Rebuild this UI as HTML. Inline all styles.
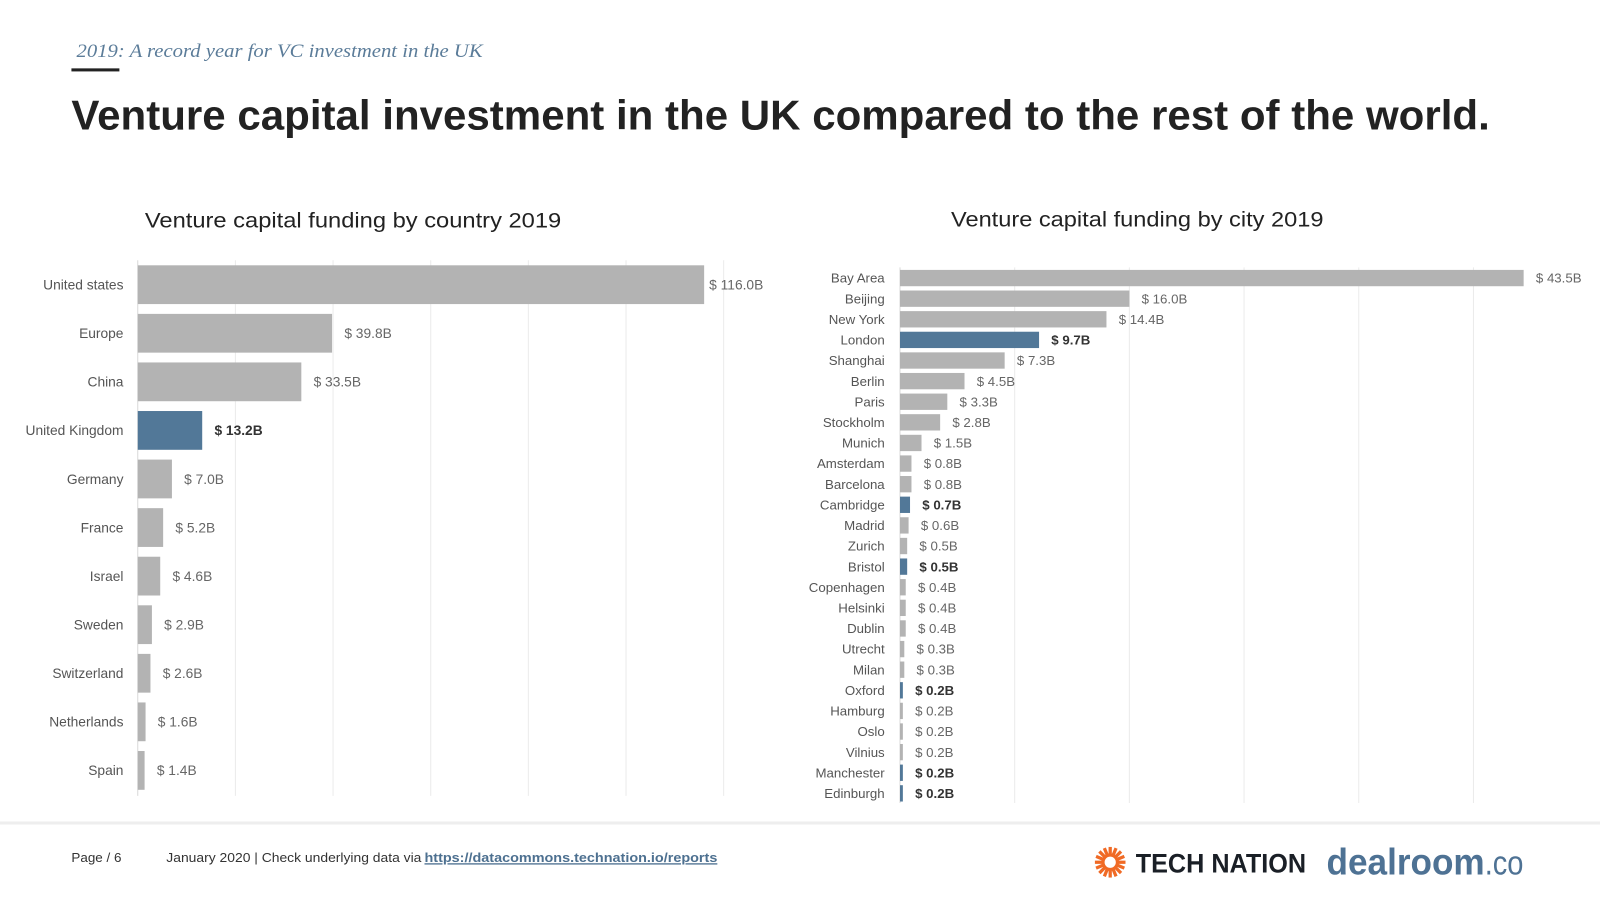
<!DOCTYPE html>
<html><head><meta charset="utf-8">
<style>
html,body{margin:0;padding:0;background:#fff;}
svg{display:block;font-family:"Liberation Sans",sans-serif;}
</style></head>
<body>
<svg id="root" width="1600" height="900" viewBox="0 0 1568 882" xmlns="http://www.w3.org/2000/svg">
  <text x="75" y="56" font-family="Liberation Serif, serif" font-style="italic" font-size="19" fill="#5b7c99" textLength="398" lengthAdjust="spacingAndGlyphs">2019: A record year for VC investment in the UK</text>
  <rect x="70" y="67" width="47" height="3" fill="#222"/>
  <text x="70" y="127" font-weight="bold" font-size="41" fill="#222" textLength="1390" lengthAdjust="spacingAndGlyphs">Venture capital investment in the UK compared to the rest of the world.</text>
  <text x="142" y="223" font-size="21" fill="#222" textLength="408" lengthAdjust="spacingAndGlyphs">Venture capital funding by country 2019</text>
  <text x="932" y="222" font-size="21" fill="#222" textLength="365" lengthAdjust="spacingAndGlyphs">Venture capital funding by city 2019</text>
  <g id="country"></g>
  <g id="city"></g>
  <rect x="0" y="805" width="1568" height="3" fill="#eeeeee"/>
  <text x="70" y="845" font-size="13" fill="#333" textLength="49" lengthAdjust="spacingAndGlyphs">Page / 6</text>
  <text x="163" y="845" font-size="13" fill="#333" textLength="250" lengthAdjust="spacingAndGlyphs">January 2020 | Check underlying data via</text>
  <a><text x="416" y="845" font-size="13" font-weight="bold" fill="#4d7090" text-decoration="underline" textLength="287" lengthAdjust="spacingAndGlyphs">https://datacommons.technation.io/reports</text></a>
  <g>
    <g id="sun" transform="translate(1088,845)"></g>
    <text x="1113" y="855" font-weight="bold" font-size="26" fill="#1a1f26" textLength="167" lengthAdjust="spacingAndGlyphs">TECH NATION</text>
  </g>
  <g>
    <text x="1300" y="857" font-weight="bold" font-size="36" fill="#4e7294" textLength="155" lengthAdjust="spacingAndGlyphs">dealroom</text>
    <text x="1455" y="857" font-size="34" fill="#4e7294" textLength="38" lengthAdjust="spacingAndGlyphs">.co</text>
  </g>
</svg>
<script>
const countryNames = ["United states","Europe","China","United Kingdom","Germany","France","Israel","Sweden","Switzerland","Netherlands","Spain"];
const countryValues = [116.0,39.8,33.5,13.2,7.0,5.2,4.6,2.9,2.6,1.6,1.4];
const countryHighlight = ["United Kingdom"];
const countryTicks = [20,40,60,80,100,120];
const cityNames = ["Bay Area","Beijing","New York","London","Shanghai","Berlin","Paris","Stockholm","Munich","Amsterdam","Barcelona","Cambridge","Madrid","Zurich","Bristol","Copenhagen","Helsinki","Dublin","Utrecht","Milan","Oxford","Hamburg","Oslo","Vilnius","Manchester","Edinburgh"];
const cityValues = [43.5,16.0,14.4,9.7,7.3,4.5,3.3,2.8,1.5,0.8,0.8,0.7,0.6,0.5,0.5,0.4,0.4,0.4,0.3,0.3,0.2,0.2,0.2,0.2,0.2,0.2];
const cityHighlight = ["London","Cambridge","Bristol","Oxford","Manchester","Edinburgh"];
const cityTicks = [8,16,24,32,40];

const NS = "http://www.w3.org/2000/svg";
function mk(tag, attrs, parent){const e=document.createElementNS(NS,tag);for(const k in attrs)e.setAttribute(k,attrs[k]);parent.appendChild(e);return e;}

function drawChart(g, names, values, hl, ticks, o){
  const x = v => o.x0 + v*o.scale;
  const y = i => o.y0 + i*o.step;
  ticks.forEach(t=>{
    const l=mk('line',{x1:x(t),x2:x(t),y1:o.gTop,y2:o.gBot,stroke:'#ebebeb','stroke-width':1},g);
    
    
  });
  const ax=mk('line',{x1:o.x0,x2:o.x0,y1:o.gTop,y2:o.gBot,stroke:'#d9d9d9','stroke-width':1},g);
  
  
  names.forEach((n,i)=>{
    const isH = hl.includes(n);
    const b=mk('rect',{x:o.x0,y:y(i)-o.bh/2,width:Math.max(1.5,x(values[i])-o.x0),height:o.bh,fill:isH?'#527898':'#b3b3b3'},g);
    
    
    const lb=mk('text',{x:o.x0-o.labGap,y:y(i)+o.fs*0.35,'text-anchor':'end','font-size':o.fs,fill:'#555'},g);
    lb.textContent=n;
    
    
    const vx = Math.min(x(values[i])+12, o.vmax || 99999);
    const vl=mk('text',{x:vx,y:y(i)+o.fs*0.35,'font-size':o.fs,fill:isH?'#333':'#666','font-weight':isH?'bold':'normal'},g);
    vl.textContent='$ '+values[i].toFixed(1)+'B';
    
    
  });
}
drawChart(document.getElementById('country'), countryNames, countryValues, countryHighlight, countryTicks,
  {x0:135, scale:4.785, y0:279, step:47.6, bh:38, gTop:255, gBot:780, fs:13.5, labGap:14, vmax:695});
drawChart(document.getElementById('city'), cityNames, cityValues, cityHighlight, cityTicks,
  {x0:882, scale:14.05, y0:272.5, step:20.2, bh:16, gTop:262, gBot:787, fs:13, labGap:15});

const sun=document.getElementById('sun');
for(let k=0;k<16;k++){
  const a=k*Math.PI/8;
  const r=mk('line',{x1:Math.cos(a)*8,y1:Math.sin(a)*8,x2:Math.cos(a)*15,y2:Math.sin(a)*15,stroke:'#f06a25','stroke-width':3.2},sun);
  
  
}
const ring=mk('circle',{cx:0,cy:0,r:7,fill:'none',stroke:'#f06a25','stroke-width':3},sun);


</script>
</body></html>
